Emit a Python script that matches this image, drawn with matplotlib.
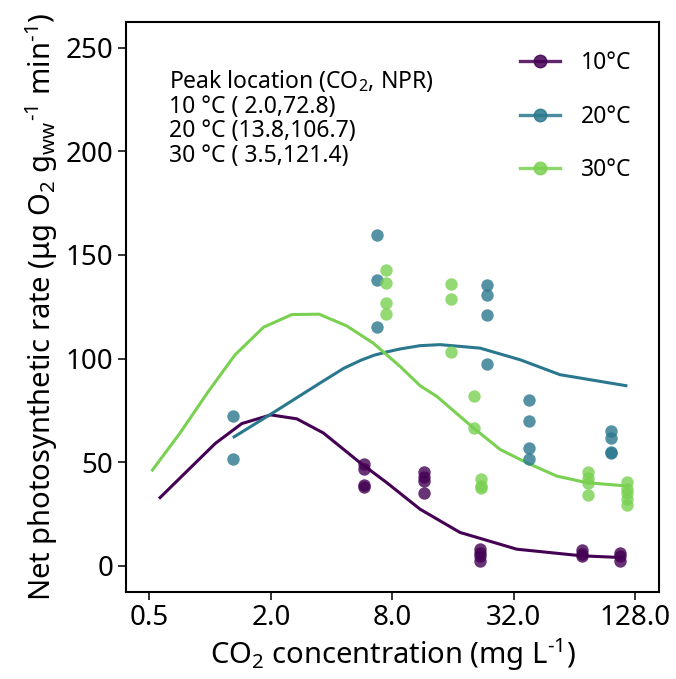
import matplotlib
matplotlib.use("Agg")
import matplotlib.pyplot as plt
from matplotlib.lines import Line2D

plt.rcParams["font.family"] = ["Noto Sans", "DejaVu Sans"]
plt.rcParams["mathtext.default"] = "regular"

# measured points (CO2 mg/L, NPR)
temps = ["10°C", "20°C", "30°C"]
colors = ["#440154", "#2A788E", "#7AD151"]

pts_x_10 = [5.8, 5.8, 5.8, 5.8, 11.5, 11.5, 11.5, 11.5, 21.8, 21.8, 21.8, 21.8,
            69.5, 69.5, 69.5, 108, 108, 108]
pts_y_10 = [48.9, 46.8, 38.9, 37.9, 45.4, 42.8, 40.9, 35.0, 8.0, 6.4, 4.8, 2.4,
            7.5, 5.6, 4.8, 6.4, 4.8, 2.4]

pts_x_20 = [1.3, 1.3, 6.7, 6.7, 6.7, 23.7, 23.7, 23.7, 23.7, 37.9, 37.9, 37.9, 37.9,
            96.7, 96.7, 96.7, 96.7]
pts_y_20 = [72.5, 51.6, 159.5, 137.7, 115.1, 135.4, 130.5, 121.0, 97.5, 80.1, 69.7, 56.9, 51.6,
            64.9, 61.7, 55.0, 54.5]

pts_x_30 = [7.42, 7.42, 7.42, 7.42, 15.6, 15.6, 15.6, 20.3, 20.3, 22.0, 22.0, 22.0,
            74.9, 74.9, 74.9, 74.9, 116, 116, 116, 116, 116]
pts_y_30 = [142.8, 136.5, 126.6, 121.6, 135.9, 128.8, 103.2, 81.7, 66.5, 41.7, 38.5, 37.5,
            45.4, 42.5, 40.1, 34.0, 40.6, 37.2, 35.3, 32.4, 29.3]

# fitted curves
fit_x_10 = [0.565, 1.06, 1.435, 2.0, 2.69, 3.64, 5.54, 7.51, 10.98, 17.3, 33.1, 69.5, 107.6]
fit_y_10 = [32.9, 59.0, 68.6, 72.8, 70.9, 64.1, 49.7, 40.1, 27.3, 16.1, 8.0, 4.8, 4.0]

fit_x_20 = [1.315, 1.98, 3.51, 4.6, 5.6, 6.5, 7.6, 8.74, 10.98, 13.8, 21.8, 34.4, 54.2, 115]
fit_y_20 = [62.2, 72.9, 88.2, 95.3, 99.2, 101.6, 103.3, 104.6, 106.2, 106.7, 105.0, 99.4, 92.2, 86.9]

fit_x_30 = [0.518, 0.71, 0.98, 1.33, 1.84, 2.54, 3.47, 4.76, 6.44, 8.74, 10.98, 13.3,
            20.2, 27.4, 37.1, 52.2, 73.5, 116]
fit_y_30 = [46.2, 64.1, 84.1, 101.8, 115.1, 121.2, 121.4, 115.7, 107.4, 96.2, 86.9, 81.7,
            66.5, 56.1, 49.7, 43.3, 40.1, 38.5]

x_ticks = [0.5, 2.0, 8.0, 32.0, 128.0]
y_ticks = [0, 50, 100, 150, 200, 250]

peak_lines = ["Peak location (CO$_2$, NPR)",
              "10 °C ( 2.0,72.8)",
              "20 °C (13.8,106.7)",
              "30 °C ( 3.5,121.4)"]


def main():
    fig = plt.figure(figsize=(6.76, 6.79), dpi=100)
    ax = fig.add_axes([0.1864, 0.1286, 0.7886, 0.8394])

    series = [
        (pts_x_10, pts_y_10, fit_x_10, fit_y_10),
        (pts_x_20, pts_y_20, fit_x_20, fit_y_20),
        (pts_x_30, pts_y_30, fit_x_30, fit_y_30),
    ]
    for (px, py, fx, fy), col in zip(series, colors):
        ax.scatter(px, py, s=80, color=col, alpha=0.8, linewidths=0, zorder=3)
        ax.plot(fx, fy, color=col, lw=2.2, zorder=2)

    ax.set_xscale("log", base=2)
    ax.set_xlim(0.383, 168)
    ax.set_ylim(-12.5, 262.5)
    ax.set_xticks(x_ticks)
    ax.set_xticklabels([f"{t:.1f}" for t in x_ticks])
    ax.minorticks_off()
    ax.set_yticks(y_ticks)

    ax.tick_params(labelsize=20, length=6, width=1.4, color="#333333", pad=3)
    for sp in ax.spines.values():
        sp.set_linewidth(1.5)

    ax.set_xlabel("CO$_2$ concentration (mg L$^{‐1}$)", fontsize=21, labelpad=3)
    ax.set_ylabel("Net photosynthetic rate (μg O$_2$ g$_{ww}$$^{‐1}$ min$^{‐1}$)",
                  fontsize=21, labelpad=4)

    ax.text(0.081, 0.918, "\n".join(peak_lines), transform=ax.transAxes,
            ha="left", va="top", fontsize=16.5, linespacing=1.02)

    handles = [Line2D([0], [0], color=c, lw=2.4, marker="o", markersize=9, alpha=0.85)
               for c in colors]
    ax.legend(handles, temps, loc="upper left", frameon=False, fontsize=16.5,
              handlelength=1.75, handletextpad=0.9, labelspacing=1.28,
              borderpad=0, borderaxespad=0, bbox_to_anchor=(0.739, 0.948))

    fig.savefig("out.png", dpi=100)
    plt.close(fig)


if __name__ == "__main__":
    main()
